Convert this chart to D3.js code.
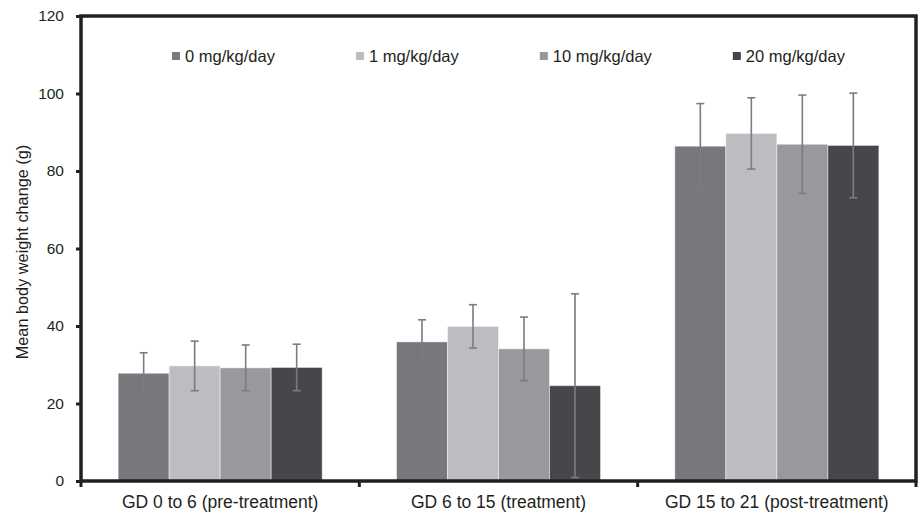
<!DOCTYPE html>
<html>
<head>
<meta charset="utf-8">
<script src="https://cdn.jsdelivr.net/npm/d3@7"></script>
<style>
  html, body { margin: 0; padding: 0; background: #fff; }
  svg { display: block; font-family: "Liberation Sans", Arial, Helvetica, sans-serif; }
</style>
</head>
<body>
<svg id="chart" width="922" height="512"></svg>
<script>
// Gestation intervals on the x axis
const categories = ["GD 0 to 6 (pre-treatment)", "GD 6 to 15 (treatment)", "GD 15 to 21 (post-treatment)"];
// Dose groups
const series = ["0 mg/kg/day", "1 mg/kg/day", "10 mg/kg/day", "20 mg/kg/day"];
// Mean body weight change (g) per dose group, one entry per interval
const dose0  = [27.8, 35.9, 86.4];
const dose1  = [29.7, 39.9, 89.7];
const dose10 = [29.2, 34.1, 86.9];
const dose20 = [29.3, 24.6, 86.6];
// Standard deviations (g)
const sd0  = [5.3, 5.7, 11.0];
const sd1  = [6.4, 5.6, 9.2];
const sd10 = [5.9, 8.2, 12.7];
const sd20 = [6.0, 23.7, 13.5];
const yTicks = [0, 20, 40, 60, 80, 100, 120];

const means = [dose0, dose1, dose10, dose20];
const sds = [sd0, sd1, sd10, sd20];
const colors = ["#77787b", "#bcbdc0", "#98999c", "#46474a"];
const ink = "#231f20";

const svg = d3.select("#chart");
const plotL = 81, plotR = 916, plotT = 16, plotB = 481;

const y = d3.scaleLinear().domain([0, 120]).range([plotB, plotT]);
const x0 = d3.scaleBand().domain(categories).range([plotL, plotR])
  .paddingInner(0.267).paddingOuter(0.1335);
const x1 = d3.scaleBand().domain(series).range([0, x0.bandwidth()]);

const rows = [];
categories.forEach((c, ci) => series.forEach((s, si) => {
  rows.push({ cat: c, ser: s, si, mean: means[si][ci], sd: sds[si][ci] });
}));

// Bars
svg.append("g").selectAll("rect").data(rows).join("rect")
  .attr("x", d => x0(d.cat) + x1(d.ser))
  .attr("y", d => y(d.mean))
  .attr("width", x1.bandwidth())
  .attr("height", d => y(0) - y(d.mean))
  .attr("fill", d => colors[d.si])
  .attr("stroke", "rgba(255,255,255,0.45)")
  .attr("stroke-width", 1);

// Error bars (mean ± SD, clipped at zero)
const eb = svg.append("g").attr("stroke", "#7b7c7e").attr("stroke-width", 1.6);
rows.forEach(d => {
  const cx = x0(d.cat) + x1(d.ser) + x1.bandwidth() / 2;
  const lo = Math.max(d.mean - d.sd, 0), hi = d.mean + d.sd;
  eb.append("line").attr("x1", cx).attr("x2", cx).attr("y1", y(lo)).attr("y2", y(hi));
  eb.append("line").attr("x1", cx - 4).attr("x2", cx + 4).attr("y1", y(hi)).attr("y2", y(hi));
  eb.append("line").attr("x1", cx - 4).attr("x2", cx + 4).attr("y1", y(lo)).attr("y2", y(lo));
});

// Frame
svg.append("rect")
  .attr("x", plotL).attr("y", plotT)
  .attr("width", plotR - plotL).attr("height", plotB - plotT)
  .attr("fill", "none").attr("stroke", ink).attr("stroke-width", 3.5);

// Y axis
const yAxis = svg.append("g")
  .attr("transform", `translate(${plotL},0)`)
  .call(d3.axisLeft(y).tickValues(yTicks).tickSize(5).tickPadding(12));
yAxis.select(".domain").remove();
yAxis.selectAll(".tick line").attr("stroke", ink).attr("stroke-width", 3);
yAxis.selectAll(".tick text").attr("fill", ink).attr("font-size", 15.5)
  .attr("font-family", "'Liberation Sans', Arial, sans-serif");

// X axis: ticks at group boundaries, labels centred under groups
const bounds = [0, 1, 2, 3].map(i => plotL + i * (plotR - plotL) / 3);
svg.append("g").selectAll("line").data(bounds).join("line")
  .attr("x1", d => d).attr("x2", d => d)
  .attr("y1", plotB).attr("y2", plotB + 6)
  .attr("stroke", ink).attr("stroke-width", 3);
svg.append("g").selectAll("text").data(categories).join("text")
  .attr("x", d => x0(d) + x0.bandwidth() / 2)
  .attr("y", 508)
  .attr("text-anchor", "middle")
  .attr("font-size", 17.5)
  .attr("fill", ink)
  .text(d => d);

// Y axis title
svg.append("text")
  .attr("transform", "translate(28,252) rotate(-90)")
  .attr("text-anchor", "middle")
  .attr("font-size", 16.3)
  .attr("fill", ink)
  .text("Mean body weight change (g)");

// Legend
const legend = svg.append("g");
let lx = 172;
series.forEach((s, i) => {
  const g = legend.append("g").attr("transform", `translate(${lx},52)`);
  g.append("rect").attr("width", 8).attr("height", 8).attr("fill", colors[i]);
  const t = g.append("text").attr("x", 13).attr("y", 10)
    .attr("font-size", 16.5).attr("fill", ink).text(s);
  lx += 13 + t.node().getComputedTextLength() + 81;
});
</script>
</body>
</html>
